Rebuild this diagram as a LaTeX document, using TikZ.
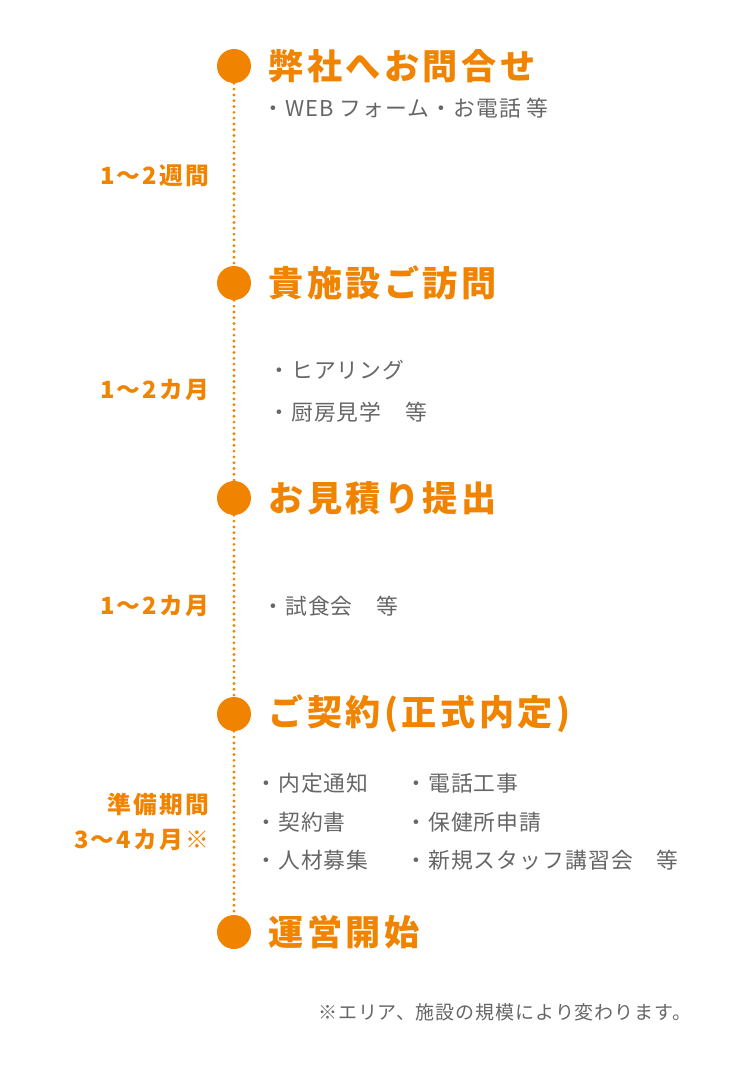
\documentclass[tikz,border=0pt]{standalone}
\usepackage{fontspec}
\setmainfont{Noto Sans CJK JP}
\newfontfamily\widefont[LetterSpace=10]{Noto Sans CJK JP}
\newfontfamily\midfont[LetterSpace=5]{Noto Sans CJK JP}
\definecolor{flowor}{HTML}{F08300}
\definecolor{flowgr}{HTML}{666666}
\tikzset{
  dot/.style={circle,fill=flowor,minimum size=0.68cm,inner sep=0pt},
  title/.style={anchor=west,text=flowor,font=\widefont\fontsize{20}{22}\selectfont\bfseries,inner sep=0pt},
  period/.style={anchor=east,text=flowor,font=\widefont\fontsize{13.5}{16}\selectfont\bfseries,inner sep=0pt,align=right},
  item/.style={anchor=west,text=flowgr,font=\midfont\fontsize{12.4}{14}\selectfont,inner sep=0pt}
}
\begin{document}
\begin{tikzpicture}[x=0.02cm,y=-0.02cm]
  \useasboundingbox (0,0) rectangle (750,1080);
  % Steps
  \node[dot] (s1) at (234,66) {};
  \node[dot] (s2) at (234,283) {};
  \node[dot] (s3) at (234,498) {};
  \node[dot] (s4) at (234,714) {};
  \node[dot] (s5) at (234,932) {};
  \foreach \a/\b in {s1/s2,s2/s3,s3/s4,s4/s5}
    \draw[flowor,line width=1.8pt,dash pattern=on 0pt off 3.3pt,line cap=round] (\a) -- (\b);
  \node[title] (t1) at (268,66) {弊社へお問合せ};
  \node[title] (t2) at (268,283) {貴施設ご訪問};
  \node[title] (t3) at (268,498) {お見積り提出};
  \node[title] (t4) at (268,714) {ご契約(正式内定)};
  \node[title] (t5) at (268,932) {運営開始};
  % Periods
  \node[period] (p1) at (210,176) {1〜2週間};
  \node[period] (p2) at (210,390) {1〜2カ月};
  \node[period] (p3) at (210,606) {1〜2カ月};
  \node[period] (p4) at (210,822) {準備期間\\[4pt]3〜4カ月※};
  % Items
  \node[item] (i1) at (262,108) {・WEB フォーム・お電話 等};
  \node[item] (i2) at (268,370) {・ヒアリング};
  \node[item] (i3) at (268,412) {・厨房見学　等};
  \node[item] (i4) at (262,606) {・試食会　等};
  \node[item] (i5) at (255,783) {・内定通知};
  \node[item] (i6) at (255,822) {・契約書};
  \node[item] (i7) at (255,860) {・人材募集};
  \node[item] (i8) at (405,783) {・電話工事};
  \node[item] (i9) at (405,822) {・保健所申請};
  \node[item] (i10) at (405,860) {・新規スタッフ講習会　等};
  \node[item,anchor=east,font=\midfont\fontsize{10.8}{12}\selectfont] (note) at (692,1012) {※エリア、施設の規模により変わります。};
\end{tikzpicture}
\end{document}
